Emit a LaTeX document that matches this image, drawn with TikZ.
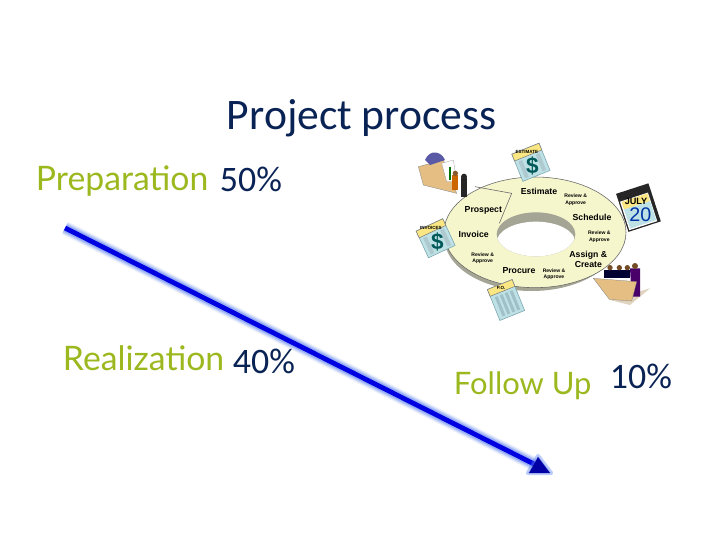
\documentclass[tikz,border=0pt]{standalone}
\usepackage{fontspec}
\setmainfont{Carlito}
\newfontfamily\wheelfont{Liberation Sans}
\newfontfamily\handfont{Lato}
\definecolor{navytext}{RGB}{10,35,85}
\definecolor{greentext}{RGB}{155,185,30}
\definecolor{wheelfill}{RGB}{246,246,205}
\definecolor{wheelshade}{RGB}{165,165,150}
\definecolor{cardblue}{RGB}{190,225,230}
\definecolor{cardline}{RGB}{120,165,175}
\definecolor{cardtop}{RGB}{250,230,130}
\definecolor{foldertan}{RGB}{228,190,130}
\definecolor{arrowblue}{RGB}{0,0,225}
\definecolor{arrowglow}{RGB}{90,130,240}
\definecolor{arrowdark}{RGB}{0,0,165}
\tikzset{
	titletext/.style={anchor=base west,text=navytext,font=\fontsize{31}{31}\selectfont},
	steptext/.style={anchor=base west,text=greentext,font=\handfont\fontsize{24}{24}\selectfont},
	sharetext/.style={anchor=base west,text=navytext,font=\fontsize{25.5}{25.5}\selectfont},
	wheeltext/.style={font=\wheelfont\bfseries\fontsize{6.2}{6.7}\selectfont,inner sep=0pt,align=center},
	smalltext/.style={font=\wheelfont\bfseries\fontsize{3.6}{4.6}\selectfont,inner sep=0pt,align=center},
	cardtext/.style={font=\wheelfont\bfseries\fontsize{3.2}{3.2}\selectfont,inner sep=0pt},
	dollartext/.style={font=\wheelfont\bfseries\fontsize{16}{16}\selectfont,text=teal!70!black,inner sep=0pt},
}
\newcommand{\moneycard}[4]{%
	\begin{scope}[shift={(#1)},rotate=#2]
		\fill[cardblue,draw=cardline,thin] (-44,-42) rectangle (44,46);
		\fill[cardtop,draw=gray,thin] (-44,-42) rectangle (44,-20);
		\fill[cardline!60] (-34,-14) rectangle (-22,40) (22,-14) rectangle (34,40);
		\node[cardtext] (#3top) at (0,-31) {#4};
		\node[dollartext] (#3sign) at (0,14) {\$};
	\end{scope}}
\begin{document}
\begin{tikzpicture}[x=0.025cm,y=-0.025cm]
\useasboundingbox (0,0) rectangle (720,540);
\fill[white] (0,0) rectangle (720,540);
% headings
\node[titletext] (title) at (222,129) {Project process};
\node[steptext] (prep) at (31,190) {Preparation};
\node[sharetext] (prepshare) at (215,191) {50\%};
\node[steptext] (real) at (58,370) {Realization};
\node[sharetext] (realshare) at (228,373) {40\%};
\node[steptext,font=\handfont\fontsize{22}{22}\selectfont] (follow) at (449,394) {Follow Up};
\node[sharetext] (followshare) at (605,388) {10\%};
% the long arrow, with its glow
\coordinate (arrowstart) at (65,228);
\coordinate (arrowend) at (538,466);
\foreach \w/\o in {10/0.10,8.5/0.16,7/0.24,5.5/0.36}
	\draw[arrowglow,line width=\w pt,opacity=\o] (arrowstart) -- (arrowend);
\draw[arrowblue,line width=3.4pt] (arrowstart) -- (arrowend);
\fill[arrowglow,opacity=0.4,line join=round,draw=arrowglow,line width=3pt] (528,473) -- (538,456) -- (551,473) -- cycle;
\fill[arrowdark] (529,473) -- (538,457) -- (550,473) -- cycle;
% the wheel, in the coordinates of a 3x crop
\begin{scope}[shift={(410,125)},scale=1/3]
	\fill[wheelshade] (365,338) ellipse (262 and 160);
	\fill[wheelfill,draw=black!60,thin] (375,322) ellipse (273 and 166);
	\fill[wheelshade] (378,328) ellipse (118 and 66);
	\begin{scope}
		\clip (378,328) ellipse (118 and 66);
		\fill[white] (378,352) ellipse (118 and 62);
	\end{scope}
	\draw[black!60,thin] (195,185) -- (305,205) -- (268,295);
	\node[wheeltext] (estimate) at (387,198) {Estimate};
	\node[wheeltext] (schedule) at (546,276) {Schedule};
	\node[wheeltext] (assign) at (535,403) {Assign \&\\Create};
	\node[wheeltext] (procure) at (327,436) {Procure};
	\node[wheeltext] (invoice) at (191,327) {Invoice};
	\node[wheeltext] (prospect) at (220,256) {Prospect};
	\node[smalltext] (reviewa) at (497,224) {Review \&\\Approve};
	\node[smalltext] (reviewb) at (568,335) {Review \&\\Approve};
	\node[smalltext] (reviewc) at (432,447) {Review \&\\Approve};
	\node[smalltext] (reviewd) at (218,400) {Review \&\\Approve};
	% cards
	\moneycard{362,110}{22}{estimate}{ESTIMATE}
	\moneycard{76,338}{25}{invoices}{INVOICES}
	\begin{scope}[shift={(288,525)},rotate=22]
		\fill[cardblue,draw=cardline,thin] (-40,-50) rectangle (40,50);
		\fill[cardtop,draw=gray,thin] (-40,-50) rectangle (40,-28);
		\foreach \x in {-28,-12,4,20}
			\fill[cardline!70] (\x,-20) rectangle (\x+9,42);
		\node[cardtext] (ponote) at (0,-39) {P.O.};
	\end{scope}
	% calendar
	\begin{scope}[shift={(685,250)},rotate=18]
		\fill[black!85] (-50,-62) rectangle (52,58);
		\fill[white] (-46,-36) rectangle (42,54);
		\fill[cardtop] (-42,-34) rectangle (40,-10);
		\fill[cardblue] (-42,-10) rectangle (40,50);
		\node[font=\wheelfont\bfseries\fontsize{6.5}{6.5}\selectfont,inner sep=0pt] (julylabel) at (0,-22) {JULY};
		\node[font=\wheelfont\fontsize{14}{14}\selectfont,text=blue!55!black!80!cyan,inner sep=0pt] (daylabel) at (0,20) {20};
	\end{scope}
	% left folder and people
	\fill[foldertan,draw=black!50,very thin] (25,125) -- (100,105) -- (135,190) -- (140,205) -- (40,180) -- cycle;
	\fill[blue!30!gray] (45,105) .. controls (60,70) and (95,80) .. (105,105) -- (60,120) -- cycle;
	\fill[white,draw=black!40,very thin] (95,115) -- (130,105) -- (140,170) -- (110,170) -- cycle;
	\fill[green!45!black] (118,125) rectangle (123,165);
	\fill[orange!80!black] (125,150) rectangle (143,195);
	\fill[black!85] (152,160) rectangle (172,215);
	\fill[black!85] (162,155) circle (9);
	\fill[brown!70!black] (136,145) circle (8);
	% right folder and people
	\fill[foldertan!65!gray!50!white] (600,525) -- (720,490) -- (660,540) -- cycle;
	\fill[black!80!blue] (582,435) rectangle (660,460);
	\foreach \x in {600,628,652}
		\fill[brown!60!black] (\x,428) circle (8);
	\fill[purple!55!blue!70!black] (660,430) -- (690,430) -- (690,515) -- (665,515) -- cycle;
	\fill[brown!60!black] (675,423) circle (9);
	\fill[foldertan,draw=black!50,very thin] (550,460) -- (680,470) -- (665,528) -- (598,523) -- cycle;
\end{scope}
\end{tikzpicture}
\end{document}
